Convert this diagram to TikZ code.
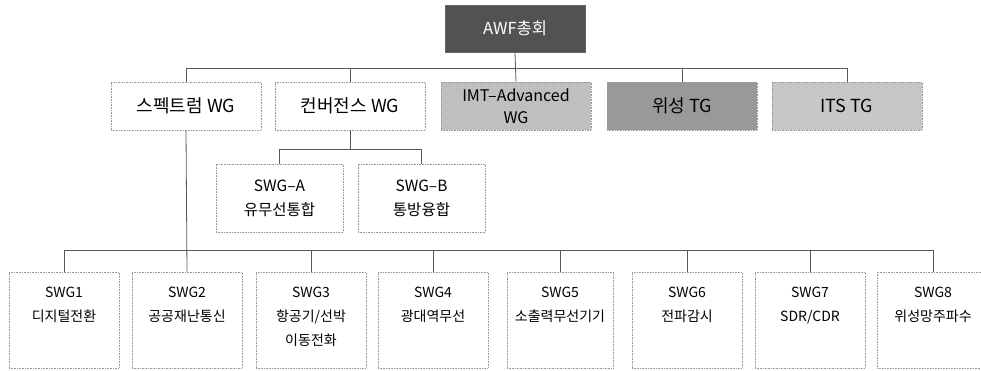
\documentclass[tikz,border=0pt]{standalone}
\usepackage{fontspec}
\setmainfont{Noto Sans CJK KR}
\begin{document}
\begin{tikzpicture}[x=1pt,y=-1pt,
  conn/.style={draw=black!65, line width=0.8pt},
  bx/.style={draw=black!40, densely dotted, line width=0.6pt, inner sep=0pt, align=center, anchor=center},
  wgbox/.style={bx, minimum width=150pt, minimum height=48pt, font=\fontsize{18}{22}\selectfont},
  subbox/.style={bx, minimum width=127pt, minimum height=68pt, font=\fontsize{15.5}{24}\selectfont},
  swgbox/.style={bx, minimum width=110pt, minimum height=96pt},
  swgtext/.style={anchor=north, align=center, inner sep=0pt, font=\fontsize{14}{24}\selectfont}
]
\useasboundingbox (0,0) rectangle (981,371);
% top
\node[bx, draw=black!60, solid, fill=black!68, text=white, minimum width=140pt, minimum height=47pt, font=\fontsize{16.5}{18}\selectfont] (awf) at (515,28.5) {AWF총회};
% second row
\node[wgbox, fill=white] (spec) at (186,106) {스펙트럼 WG};
\node[wgbox, fill=white] (conv) at (350,106) {컨버전스 WG};
\node[wgbox, fill=black!25, font=\fontsize{16}{22}\selectfont] (imt) at (516,106) {IMT--Advanced\\WG};
\node[wgbox, fill=black!40] (sat) at (682,106) {위성 TG};
\node[wgbox, fill=black!22] (its) at (847,106) {ITS TG};
% sub WG
\node[subbox] (swga) at (279.5,198) {SWG--A\\유무선통합};
\node[subbox] (swgb) at (421.5,198) {SWG--B\\통방융합};
% bottom row
\node[swgbox] (s1) at (64,320) {};
\node[swgbox] (s2) at (187,320) {};
\node[swgbox] (s3) at (311,320) {};
\node[swgbox] (s4) at (433,320) {};
\node[swgbox, minimum width=106pt] (s5) at (560,320) {};
\node[swgbox] (s6) at (687,320) {};
\node[swgbox] (s7) at (810,320) {};
\node[swgbox, minimum width=112pt] (s8) at (933,320) {};
\node[swgtext] (t1) at ([yshift=-15pt]s1.north) {SWG1\\디지털전환};
\node[swgtext] (t2) at ([yshift=-15pt]s2.north) {SWG2\\공공재난통신};
\node[swgtext] (t3) at ([yshift=-15pt]s3.north) {SWG3\\항공기/선박\\이동전화};
\node[swgtext] (t4) at ([yshift=-15pt]s4.north) {SWG4\\광대역무선};
\node[swgtext] (t5) at ([yshift=-15pt]s5.north) {SWG5\\소출력무선기기};
\node[swgtext] (t6) at ([yshift=-15pt]s6.north) {SWG6\\전파감시};
\node[swgtext] (t7) at ([yshift=-15pt]s7.north) {SWG7\\SDR/CDR};
\node[swgtext] (t8) at ([yshift=-15pt]s8.north) {SWG8\\위성망주파수};
% bus coordinates
\coordinate (bus1) at (0,68);
\coordinate (bus2) at (0,149);
\coordinate (bus3) at (0,250);
% connectors
\draw[conn] (awf.south) -- (imt.north);
\draw[conn] (spec.north) -- (spec.north |- bus1) -- (its.north |- bus1) -- (its.north);
\draw[conn] (conv.north) -- (conv.north |- bus1);
\draw[conn] (sat.north) -- (sat.north |- bus1);
\draw[conn] (conv.south) -- (conv.south |- bus2);
\draw[conn] (swga.north) -- (swga.north |- bus2) -- (swgb.north |- bus2) -- (swgb.north);
\draw[conn] (spec.south) -- (s2.north);
\draw[conn] (s1.north) -- (s1.north |- bus3) -- (s8.north |- bus3) -- (s8.north);
\foreach \n in {s3,s4,s5,s6,s7} \draw[conn] (\n.north) -- (\n.north |- bus3);
\end{tikzpicture}
\end{document}
